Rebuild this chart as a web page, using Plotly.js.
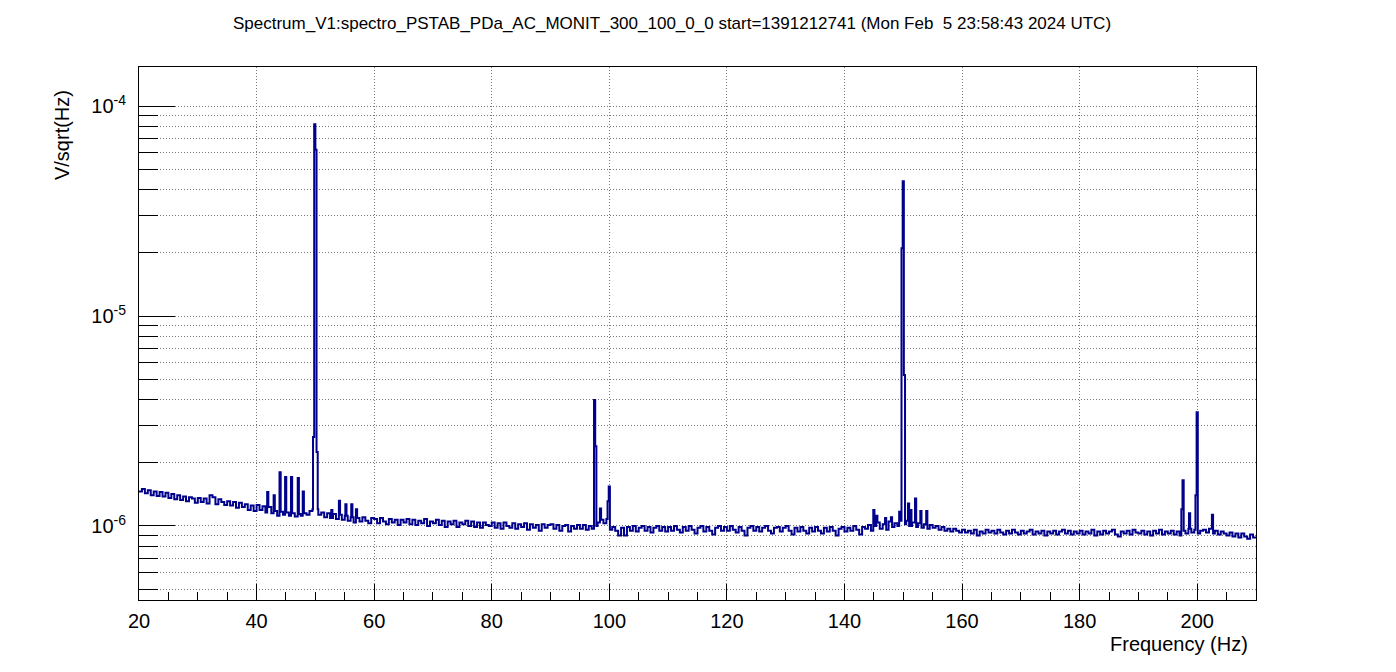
<!DOCTYPE html>
<html>
<head>
<meta charset="utf-8">
<script src="https://cdn.plot.ly/plotly-3.0.1.min.js"></script>
<style>html,body{margin:0;padding:0;background:#fff;}#plot{width:1396px;height:672px;}</style>
</head>
<body>
<div id="plot"></div>
<script>
// Baseline spectrum, 0.5 Hz bins starting at 20 Hz, values in units of 1e-6 V/sqrt(Hz)
const baseStart = 20;
const baseStep = 0.5;
const baseValues = [
  1.46,1.50,1.43,1.48,1.40,1.46,1.39,1.45,1.38,1.44, // 20-25
  1.36,1.42,1.34,1.40,1.33,1.38,1.31,1.37,1.35,1.29, // 25-30
  1.36,1.30,1.35,1.28,1.40,1.37,1.27,1.34,1.30,1.26, // 30-35
  1.31,1.25,1.30,1.22,1.29,1.23,1.27,1.19,1.25,1.18, // 35-40
  1.26,1.19,1.24,1.16,1.23,1.15,1.18,1.12,1.17,1.13, // 40-45
  1.16,1.12,1.15,1.11,1.14,1.12,1.15,1.13,1.18,1.20, // 45-50
  1.20,1.13,1.16,1.10,1.15,1.09,1.14,1.08,1.13,1.07, // 50-55
  1.12,1.06,1.10,1.04,1.09,1.05,1.10,1.06,1.03,1.09, // 55-60
  1.08,1.03,1.09,1.05,1.02,1.08,1.04,1.07,1.01,1.07, // 60-65
  1.04,1.08,1.02,1.07,1.01,1.06,1.03,1.08,1.00,1.05, // 65-70
  1.03,1.07,1.01,1.06,0.99,1.05,1.02,1.06,0.99,1.04, // 70-75
  1.02,1.06,1.00,1.05,0.99,1.04,0.98,1.04,1.01,1.00, // 75-80
  1.04,0.98,1.03,0.97,1.04,1.00,0.98,1.03,0.97,1.02, // 80-85
  0.99,1.03,0.96,1.02,0.98,1.01,0.95,1.02,0.98,1.01, // 85-90
  1.02,0.97,1.01,0.95,1.00,1.01,0.94,1.00,0.97,1.01, // 90-95
  0.97,1.01,0.96,1.00,0.97,1.00,1.04,1.07,1.03,1.08, // 95-100
  0.96,0.99,0.95,0.90,0.98,0.90,0.99,0.95,1.00,0.94, // 100-105
  0.98,1.00,0.95,0.99,0.93,0.98,1.00,0.95,0.99,0.94, // 105-110
  0.99,0.95,1.00,0.96,0.93,0.99,0.95,1.00,0.96,0.92, // 110-115
  0.98,1.00,0.94,0.99,0.95,0.91,0.98,1.00,0.95,0.99, // 115-120
  0.95,1.00,0.96,0.93,0.99,0.95,0.90,0.98,1.00,0.95, // 120-125
  0.99,0.94,0.98,1.00,0.95,0.92,0.98,0.99,0.94,0.98, // 125-130
  1.00,0.95,0.91,0.98,0.94,0.99,0.95,0.92,0.98,0.94, // 130-135
  0.99,0.95,0.92,0.98,0.94,0.99,0.95,0.90,0.97,0.99, // 135-140
  0.94,0.98,0.95,1.00,0.96,0.91,0.99,0.97,1.01,0.95, // 140-145
  1.00,1.04,0.97,1.02,0.96,1.05,0.99,1.03,1.00,1.06, // 145-150
  1.02,1.06,1.00,1.04,0.99,1.03,0.98,1.02,0.97,1.01, // 150-155
  0.98,1.00,0.96,0.99,0.95,0.97,0.94,0.97,0.95,0.93, // 155-160
  0.96,0.93,0.95,0.92,0.96,0.90,0.94,0.92,0.96,0.93, // 160-165
  0.95,0.92,0.96,0.93,0.91,0.95,0.92,0.96,0.93,0.91, // 165-170
  0.95,0.92,0.94,0.96,0.91,0.94,0.92,0.95,0.90,0.94, // 170-175
  0.92,0.95,0.91,0.94,0.96,0.92,0.95,0.91,0.94,0.92, // 175-180
  0.95,0.91,0.94,0.92,0.96,0.90,0.94,0.91,0.95,0.92, // 180-185
  0.94,0.96,0.91,0.89,0.94,0.92,0.95,0.91,0.96,0.93, // 185-190
  0.92,0.95,0.91,0.94,0.90,0.95,0.92,0.96,0.91,0.94, // 190-195
  0.92,0.95,0.91,0.94,0.90,0.95,0.92,0.97,0.93,0.96, // 195-200
  0.92,0.95,0.96,0.93,0.97,0.92,0.95,0.91,0.94,0.92, // 200-205
  0.90,0.93,0.89,0.92,0.88,0.92,0.89,0.87,0.91,0.88  // 205-210
];

// Narrow line features: start frequency (Hz) of a 0.2 Hz bin, and value (1e-6 V/sqrt(Hz))
const peakWidth = 0.2;
const peakStart = [41.8, 42.9, 43.9, 44.85, 45.85, 47.0, 47.85,
                   49.6, 49.8, 50.0, 50.2,
                   52.7, 54.0, 55.1, 56.1, 56.9,
                   97.4, 97.6, 98.4, 99.7, 99.9,
                   144.9, 145.4, 146.9, 147.9, 149.3,
                   149.7, 149.9, 150.1,
                   150.8, 151.2, 152.0, 152.9, 153.9,
                   197.3, 197.5, 198.6, 199.7, 199.9, 202.5];
const peakValue = [1.45, 1.40, 1.80, 1.71, 1.71, 1.69, 1.46,
                   2.65, 82.0, 62.0, 2.25,
                   1.19, 1.32, 1.27, 1.27, 1.20,
                   3.98, 2.40, 1.21, 1.31, 1.54,
                   1.19, 1.12, 1.09, 1.10, 1.17,
                   21.0, 43.9, 5.24,
                   1.28, 1.19, 1.35, 1.18, 1.18,
                   1.20, 1.65, 1.15, 1.40, 3.48, 1.13];

const xTickVals = [20, 40, 60, 80, 100, 120, 140, 160, 180, 200];
const yTickVals = [1e-6, 1e-5, 1e-4];
const yTickText = ['10<sup>-6</sup>', '10<sup>-5</sup>', '10<sup>-4</sup>'];

// build the stepped series from baseline bins + narrow features
const bp = new Set();
for (let i = 0; i <= baseValues.length; i++) bp.add(+(baseStart + i * baseStep).toFixed(3));
peakStart.forEach(p => { bp.add(+p.toFixed(3)); bp.add(+(p + peakWidth).toFixed(3)); });
const xs = [...bp].sort((a, b) => a - b);
const ys = xs.map(x => {
  const k = peakStart.findIndex(p => x >= p - 1e-9 && x < p + peakWidth - 1e-9);
  if (k >= 0) return peakValue[k] * 1e-6;
  const i = Math.min(baseValues.length - 1, Math.floor((x - baseStart) / baseStep + 1e-9));
  return baseValues[i] * 1e-6;
});

// minor ticks for log axis
const yMinor = [];
for (let e = -7; e <= -4; e++) for (let m = 2; m <= 9; m++) yMinor.push(m * Math.pow(10, e));

const font = 'Liberation Sans, Arial, Helvetica, sans-serif';
const gridDash = '1px,2px';
const gridColor = '#777';
const trace = {
  x: xs, y: ys, type: 'scatter', mode: 'lines',
  line: {shape: 'hv', color: 'rgb(0,0,140)', width: 2},
  hoverinfo: 'x+y'
};
const layout = {
  width: 1396, height: 672,
  margin: {l: 139, r: 140, t: 67, b: 72},
  paper_bgcolor: '#fff', plot_bgcolor: '#fff',
  showlegend: false,
  font: {family: font, color: '#000'},
  title: {text: 'Spectrum_V1:spectro_PSTAB_PDa_AC_MONIT_300_100_0_0 start=1391212741 (Mon Feb\u00a0 5 23:58:43 2024 UTC)',
          font: {family: font, size: 17, color: '#000'},
          x: 0.4814, xanchor: 'center', xref: 'container', y: 0.966, yanchor: 'middle', yref: 'container'},
  xaxis: {
    range: [20, 210], tickmode: 'array', tickvals: xTickVals,
    ticks: 'inside', ticklen: 16, tickwidth: 1, tickcolor: '#000',
    showline: true, linecolor: '#000', linewidth: 1, mirror: true,
    showgrid: true, gridcolor: gridColor, griddash: gridDash, gridwidth: 1,
    zeroline: false, tickfont: {family: font, size: 20, color: '#000'},
    ticklabelstandoff: 3,
    minor: {dtick: 5, tick0: 20, ticks: 'inside', ticklen: 8, tickcolor: '#000', showgrid: false}
  },
  yaxis: {
    type: 'log', range: [Math.log10(4.44e-7), Math.log10(1.535e-4)],
    tickmode: 'array', tickvals: yTickVals, ticktext: yTickText,
    ticks: 'inside', ticklen: 36, tickwidth: 1, tickcolor: '#000',
    showline: true, linecolor: '#000', linewidth: 1, mirror: true,
    showgrid: true, gridcolor: gridColor, griddash: gridDash, gridwidth: 1,
    zeroline: false, tickfont: {family: font, size: 20, color: '#000'},
    ticklabelstandoff: 8,
    minor: {tickmode: 'array', tickvals: yMinor, ticks: 'inside', ticklen: 19, tickcolor: '#000',
            showgrid: true, gridcolor: gridColor, griddash: gridDash, gridwidth: 1}
  },
  annotations: [
    {text: 'Frequency (Hz)', xref: 'paper', yref: 'paper', x: 0.9946, y: -0.0825,
     xanchor: 'right', yanchor: 'middle', showarrow: false, font: {family: font, size: 20, color: '#000'}},
    {text: 'V/sqrt(Hz)', xref: 'paper', yref: 'paper', x: -0.0689, y: 0.9606, textangle: -90,
     xanchor: 'center', yanchor: 'top', showarrow: false, font: {family: font, size: 20, color: '#000'}}
  ]
};
Plotly.newPlot('plot', [trace], layout, {displayModeBar: false, staticPlot: true});
</script>
</body>
</html>
